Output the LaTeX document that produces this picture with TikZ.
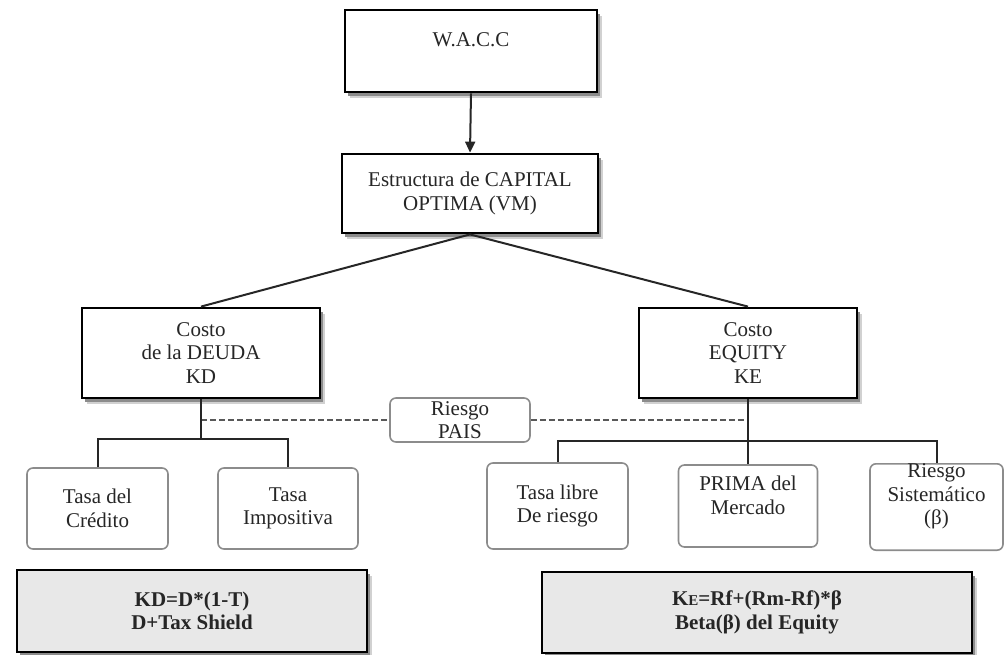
\documentclass[tikz,border=0pt]{standalone}
\usepackage{fontspec}
\setmainfont{Liberation Serif}
\usepackage{xcolor}
\usetikzlibrary{calc,arrows.meta,positioning,shapes,shadows}

\begin{document}
\begin{tikzpicture}[x=1pt,y=-1pt,
    txt/.style={font=\fontsize{21}{23.5}\selectfont,text=black!85,align=center,inner sep=0pt},
    mainbox/.style={txt,draw=black,line width=2.8pt,fill=white,
      general shadow={shadow xshift=4.5pt,shadow yshift=-5.5pt,fill=black!18},
      general shadow={shadow xshift=3pt,shadow yshift=-3.5pt,fill=black!45}},
    subbox/.style={txt,draw=black!45,line width=1.6pt,rounded corners=6pt,fill=white},
    formbox/.style={mainbox,fill=black!9,font=\bfseries\fontsize{21}{23.5}\selectfont},
    link/.style={black!85,line width=2pt},
    riesgo/.style={black!65,line width=2pt,dash pattern=on 6pt off 3pt}]
  \useasboundingbox (0,0) rectangle (1006,654);
  % main chain
  \node[mainbox,minimum width=252pt,minimum height=82pt,text depth=22pt] (wacc) at (471,51) {W.A.C.C};
  \node[mainbox,minimum width=256pt,minimum height=79pt] (estr) at (470,193.5) {Estructura de CAPITAL\\OPTIMA (VM)};
  \node[mainbox,minimum width=238pt,minimum height=90pt] (deuda) at (201,353) {Costo\\de la DEUDA\\KD};
  \node[mainbox,minimum width=218pt,minimum height=90pt] (equity) at (748,353) {Costo\\EQUITY\\KE};
  \node[subbox,minimum width=140pt,minimum height=44pt] (pais) at (460,420) {Riesgo\\PAIS};
  % components
  \node[subbox,minimum width=141pt,minimum height=81pt] (credito) at (97.5,508.5) {Tasa del\\Crédito};
  \node[subbox,minimum width=140pt,minimum height=81pt] (impos) at (288,508.5) {Tasa\\Impositiva};
  \node[subbox,minimum width=141pt,minimum height=86pt] (libre) at (557.5,506) {Tasa libre\\De riesgo};
  \node[subbox,minimum width=139pt,minimum height=82pt,text depth=22pt] (prima) at (748,506) {PRIMA del\\Mercado};
  \node[subbox,minimum width=133pt,minimum height=80pt,text depth=25.5pt] (sist) at (936.5,507) {Riesgo\\Sistemático\\(β)};
  % formulas
  \node[formbox,minimum width=350pt,minimum height=82pt] (kdf) at (192,611) {KD=D*(1-T)\\D+Tax Shield};
  \node[formbox,minimum width=430pt,minimum height=81pt] (kef) at (757,612.5) {K{\fontsize{15}{15}\selectfont E}=Rf+(Rm-Rf)*β\\Beta(β) del Equity};
  % connectors
  \draw[link,-{Triangle[length=11pt,width=10pt]}] (wacc.south) -- (estr.north);
  \draw[link] (estr.south) -- (deuda.north);
  \draw[link] (estr.south) -- (equity.north);
  \draw[riesgo] (deuda.south |- pais.west) -- (pais.west);
  \draw[riesgo] (pais.east) -- (equity.south |- pais.east);
  \coordinate (dj) at ($(deuda.south)+(0,40)$);
  \coordinate (ej) at ($(equity.south)+(0,42)$);
  \draw[link] (deuda.south) -- (dj);
  \draw[link] (credito.north) |- (dj) -| (impos.north);
  \draw[link] (equity.south) -- (prima.north);
  \draw[link] (libre.north) |- (ej) -| (sist.north);
\end{tikzpicture}
\end{document}
